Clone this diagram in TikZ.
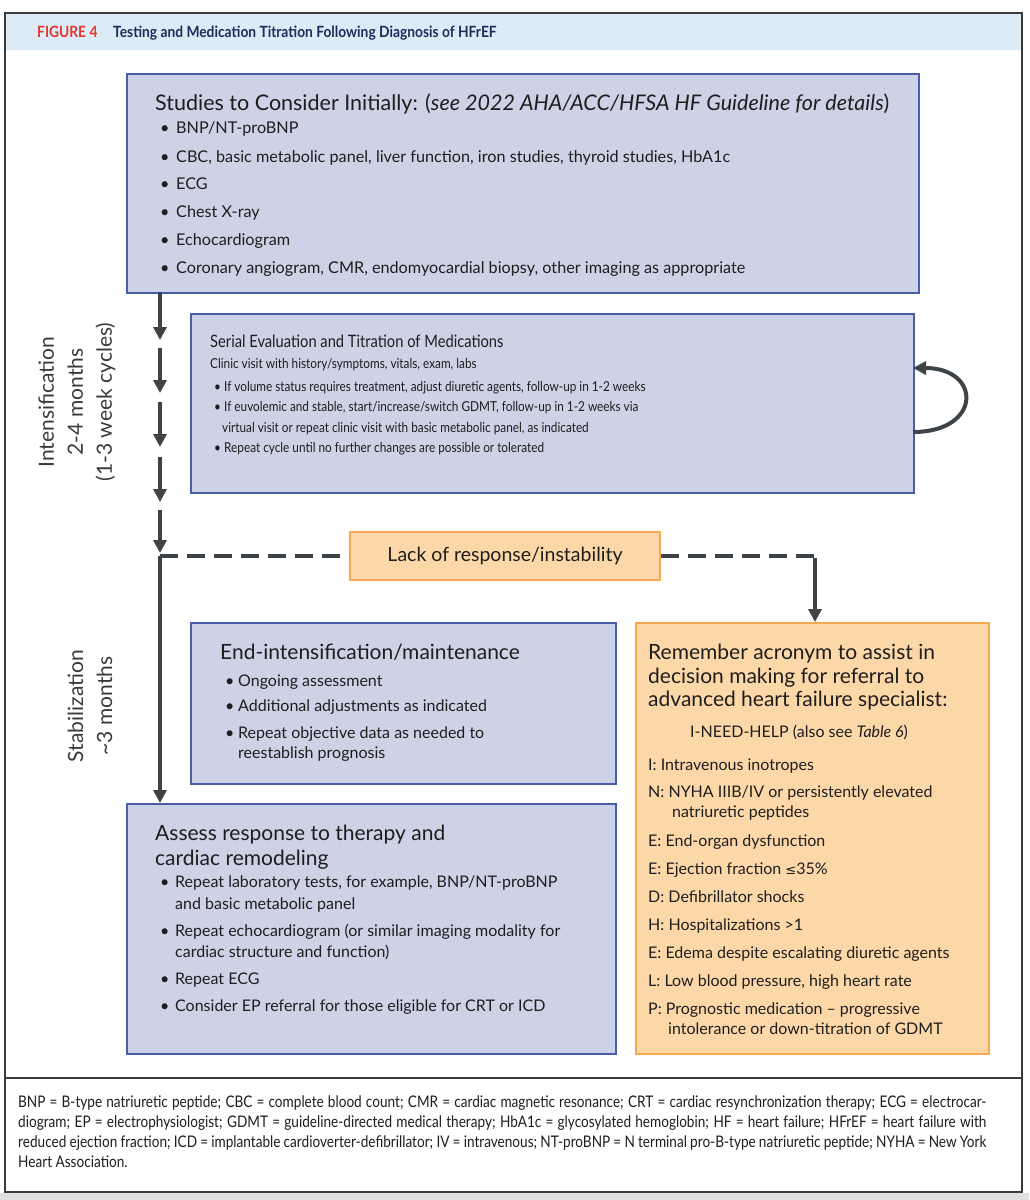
\documentclass[tikz,border=0pt]{standalone}
\usepackage{fontspec}
\setmainfont{Lato}
\newfontfamily\condA{Lato}
\newfontfamily\condB[FakeStretch=0.86]{Lato}
\newfontfamily\hdfont[FakeStretch=0.89]{Lato}
\newfontfamily\ftfont[FakeStretch=0.85]{Lato}
\newfontfamily\dv{DejaVu Sans}
\usetikzlibrary{arrows.meta}
\definecolor{boxfill}{HTML}{CDD2E6}
\definecolor{boxline}{HTML}{4A5DA8}
\definecolor{orfill}{HTML}{FCD8A8}
\definecolor{orline}{HTML}{F4A952}
\definecolor{arrc}{HTML}{3D4347}
\definecolor{hdr}{HTML}{DDEBF7}
\definecolor{figred}{HTML}{E2362F}
\definecolor{navy}{HTML}{1C2D5C}
\definecolor{framec}{HTML}{3A3A3A}
\definecolor{txt}{HTML}{1E1E1E}
\newcommand\bul[1]{\makebox[#1][l]{•}}
\newcommand\tl[5][]{\node[tline,#1] (#2) at (#3,#4) {#5};}
\begin{document}
\begin{tikzpicture}[x=1pt,y=-1pt,
  bluebox/.style={draw=boxline,fill=boxfill,line width=2.2pt,anchor=north west,inner sep=0pt},
  orbox/.style={draw=orline,fill=orfill,line width=2pt,anchor=north west,inner sep=0pt},
  tline/.style={inner sep=0pt,anchor=base west,text=txt},
  hA/.style={font=\condA\fontsize{21.5}{24}\selectfont},
  iA/.style={font=\condA\fontsize{16.2}{19}\selectfont},
  hB/.style={font=\condB\fontsize{17.1}{21}\selectfont},
  iB/.style={font=\condB\fontsize{13.7}{16}\selectfont},
  hC/.style={font=\fontsize{21}{24}\selectfont},
  iC/.style={font=\fontsize{16}{19}\selectfont},
  side/.style={align=center,text=framec,inner sep=0pt,font=\fontsize{21}{29}\selectfont},
  flow/.style={draw=arrc,line width=4pt,-{Triangle[length=13pt,width=13pt]}},
  dashline/.style={draw=arrc,line width=4pt,dash pattern=on 18pt off 9pt},
  foot/.style={tline,font=\ftfont\fontsize{16}{20}\selectfont},
]
\useasboundingbox (0,0) rectangle (1029,1200);
\fill[white] (0,0) rectangle (1029,1200);
\fill[black!12] (0,1193) rectangle (1029,1200);
% frame and header
\fill[hdr] (5,13) rectangle (1022,50);
\draw[framec,line width=1.8pt] (5,13) rectangle (1022,1192);
\draw[framec,line width=1.8pt] (5,1078) -- (1022,1078);
\node[tline,font=\hdfont\bfseries\fontsize{15.5}{18}\selectfont,text=figred] (figno) at (37,37) {FIGURE 4};
\node[tline,font=\hdfont\bfseries\fontsize{15.5}{18}\selectfont,text=navy] (figtitle) at (113,37) {Testing and Medication Titration Following Diagnosis of HFrEF};

% boxes
\node[bluebox,minimum width=792pt,minimum height=219pt] (b1) at (126,73) {};
\node[bluebox,minimum width=723pt,minimum height=179pt] (b2) at (190,313) {};
\node[orbox,minimum width=310pt,minimum height=48pt,anchor=center,font=\fontsize{19.5}{22}\selectfont,text=txt] (lack) at (505,556) {Lack of response/instability};
\node[bluebox,minimum width=425pt,minimum height=161pt] (b3) at (190,622) {};
\node[bluebox,minimum width=489pt,minimum height=250pt] (b4) at (126,803) {};
\node[orbox,minimum width=353pt,minimum height=431pt] (b5) at (635,622) {};

% box 1 text
\tl[hA]{s0}{155}{110}{Studies to Consider Initially: (\textit{see 2022 AHA/ACC/HFSA HF Guideline for details})}
\tl[iA]{s1}{160}{133}{\bul{16pt}BNP/NT-proBNP}
\tl[iA]{s2}{160}{162}{\bul{16pt}CBC, basic metabolic panel, liver function, iron studies, thyroid studies, HbA1c}
\tl[iA]{s3}{160}{189}{\bul{16pt}ECG}
\tl[iA]{s4}{160}{217}{\bul{16pt}Chest X-ray}
\tl[iA]{s5}{160}{245}{\bul{16pt}Echocardiogram}
\tl[iA]{s6}{160}{273}{\bul{16pt}Coronary angiogram, CMR, endomyocardial biopsy, other imaging as appropriate}

% box 2 text
\tl[hB]{r0}{210}{347}{Serial Evaluation and Titration of Medications}
\tl[iB]{r1}{210}{368}{Clinic visit with history/symptoms, vitals, exam, labs}
\tl[iB]{r2}{214}{391}{\bul{10pt}If volume status requires treatment, adjust diuretic agents, follow-up in 1-2 weeks}
\tl[iB]{r3}{214}{411}{\bul{10pt}If euvolemic and stable, start/increase/switch GDMT, follow-up in 1-2 weeks via}
\tl[iB]{r4}{222}{432}{virtual visit or repeat clinic visit with basic metabolic panel, as indicated}
\tl[iB]{r5}{214}{452}{\bul{10pt}Repeat cycle until no further changes are possible or tolerated}

% box 3 text
\tl[hC]{e0}{220}{659}{End-intensification/maintenance}
\tl[iC]{e1}{225}{686}{\bul{13pt}Ongoing assessment}
\tl[iC]{e2}{225}{711}{\bul{13pt}Additional adjustments as indicated}
\tl[iC]{e3}{225}{738}{\bul{13pt}Repeat objective data as needed to}
\tl[iC]{e4}{238}{758}{reestablish prognosis}

% box 4 text
\tl[hC]{a0}{155}{840}{Assess response to therapy and}
\tl[hC]{a1}{155}{865}{cardiac remodeling}
\tl[iC]{a2}{160}{887}{\bul{15pt}Repeat laboratory tests, for example, BNP/NT-proBNP}
\tl[iC]{a3}{175}{909}{and basic metabolic panel}
\tl[iC]{a4}{160}{936}{\bul{15pt}Repeat echocardiogram (or similar imaging modality for}
\tl[iC]{a5}{175}{957}{cardiac structure and function)}
\tl[iC]{a6}{160}{984}{\bul{15pt}Repeat ECG}
\tl[iC]{a7}{160}{1011}{\bul{15pt}Consider EP referral for those eligible for CRT or ICD}

% orange box text
\tl[hC]{o0}{648}{659}{Remember acronym to assist in}
\tl[hC]{o1}{648}{683}{decision making for referral to}
\tl[hC]{o2}{648}{706}{advanced heart failure specialist:}
\tl[iC]{o3}{690}{737}{I-NEED-HELP (also see \textit{Table 6})}
\tl[iC]{o4}{648}{770}{I: Intravenous inotropes}
\tl[iC]{o5}{648}{797}{N: NYHA IIIB/IV or persistently elevated}
\tl[iC]{o6}{672}{817}{natriuretic peptides}
\tl[iC]{o7}{648}{846}{E: End-organ dysfunction}
\tl[iC]{o8}{648}{874}{E: Ejection fraction {\dv\fontsize{13}{16}\selectfont ≤}35\%}
\tl[iC]{o9}{648}{902}{D: Defibrillator shocks}
\tl[iC]{o10}{648}{930}{H: Hospitalizations >1}
\tl[iC]{o11}{648}{958}{E: Edema despite escalating diuretic agents}
\tl[iC]{o12}{648}{986}{L: Low blood pressure, high heart rate}
\tl[iC]{o13}{648}{1014}{P: Prognostic medication – progressive}
\tl[iC]{o14}{668}{1034}{intolerance or down-titration of GDMT}

% side labels
\node[side,rotate=90] (lab1) at (77,402) {Intensification\\2-4 months\\(1-3 week cycles)};
\node[side,rotate=90] (lab2) at (90,706) {Stabilization\\\textasciitilde3 months};

% left flow arrows
\coordinate (p0) at (160,292);
\coordinate (p1) at (160,340);
\coordinate (p2) at (160,348);
\coordinate (p3) at (160,393);
\coordinate (p4) at (160,402);
\coordinate (p5) at (160,447);
\coordinate (p6) at (160,457);
\coordinate (p7) at (160,502);
\coordinate (p8) at (160,510);
\coordinate (p9) at (160,553);
\coordinate (j1) at (160,556);
\coordinate (j2) at (815,556);
\draw[flow] (p0) -- (p1);
\draw[flow] (p2) -- (p3);
\draw[flow] (p4) -- (p5);
\draw[flow] (p6) -- (p7);
\draw[flow] (p8) -- (p9);
\draw[flow] (j1) -- (j1 |- b4.north);
\draw[dashline] (j1) -- (lack.west);
\draw[dashline] (lack.east) -- (j2);
\draw[flow] ([yshift=-2pt]j2) -- (j2 |- b5.north);

% loop
\coordinate (l1) at (913,432);
\coordinate (l2) at (913,368);
\draw[flow] (l1) .. controls (982,432) and (982,368) .. (l2);

% footnote
\node[foot] (f1) at (18,1107) {\makebox[968pt][s]{BNP = B-type natriuretic peptide; CBC = complete blood count; CMR = cardiac magnetic resonance; CRT = cardiac resynchronization therapy; ECG = electrocar-}};
\node[foot] (f2) at (18,1127) {\makebox[968pt][s]{diogram; EP = electrophysiologist; GDMT = guideline-directed medical therapy; HbA1c = glycosylated hemoglobin; HF = heart failure; HFrEF = heart failure with}};
\node[foot] (f3) at (18,1147) {\makebox[968pt][s]{reduced ejection fraction; ICD = implantable cardioverter-defibrillator; IV = intravenous; NT-proBNP = N terminal pro-B-type natriuretic peptide; NYHA = New York}};
\node[foot] (f4) at (18,1167) {Heart Association.};
\end{tikzpicture}
\end{document}
